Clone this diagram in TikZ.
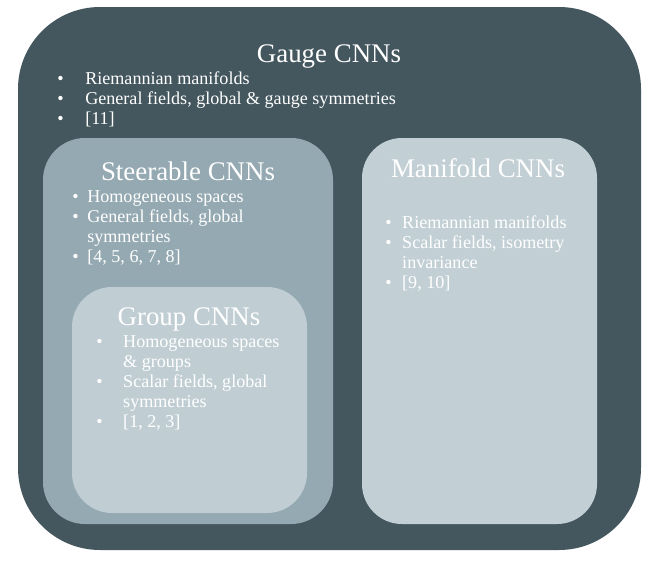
\documentclass[tikz,border=0pt]{standalone}
\usepackage{fontspec}
\setmainfont{Liberation Serif}
\usepackage{tikz}

\definecolor{gaugegray}{HTML}{44575F}
\definecolor{steergray}{HTML}{94A9B1}
\definecolor{grouplight}{HTML}{C0CED4}
\definecolor{manilight}{HTML}{C2CFD5}

% bullet list: width of the bullet column, then the rows
\newcommand{\bulletlist}[2]{\begin{tabular}[t]{@{}p{#1}@{}l@{}}#2\end{tabular}}

\begin{document}
\begin{tikzpicture}[x=0.02cm,y=-0.02cm,
    title/.style={text=white, inner sep=0pt, anchor=base, font=\fontsize{15.3}{17}\selectfont},
    items/.style={text=white, inner sep=0pt, anchor=base west, font=\fontsize{10.3}{11.4}\selectfont}]

            % fix the page size
            \useasboundingbox (0,0) rectangle (653,561);

            % draw the outer box
            \fill[gaugegray, rounded corners=1.64cm] (18,7) rectangle (641,550);

            % draw the steerable box
            \fill[steergray, rounded corners=0.84cm] (43,138) rectangle (333,524);

            % draw the group box inside it
            \fill[grouplight, rounded corners=0.8cm] (72,287) rectangle (307,513);

            % draw the manifold box
            \fill[manilight, rounded corners=0.8cm] (362,138) rectangle (597,524);

            % titles
            \node[title] (gauge) at (329,62) {Gauge CNNs};
            \node[title] (steer) at (188,180) {Steerable CNNs};
            \node[title] (group) at (189,325) {Group CNNs};
            \node[title] (mani) at (478,177) {Manifold CNNs};

            % lists
            \node[items] (gaugelist) at (57,84) {\bulletlist{15.9pt}{\textbullet & Riemannian manifolds\\
                \textbullet & General fields, global \& gauge symmetries\\
                \textbullet & [11]}};
            \node[items] (steerlist) at (72,202) {\bulletlist{8.5pt}{\textbullet & Homogeneous spaces\\
                \textbullet & General fields, global\\
                & symmetries\\
                \textbullet & [4, 5, 6, 7, 8]}};
            \node[items] (grouplist) at (96,347) {\bulletlist{15.3pt}{\textbullet & Homogeneous spaces\\
                & \& groups\\
                \textbullet & Scalar fields, global\\
                & symmetries\\
                \textbullet & [1, 2, 3]}};
            \node[items] (manilist) at (385,228) {\bulletlist{9.6pt}{\textbullet & Riemannian manifolds\\
                \textbullet & Scalar fields, isometry\\
                & invariance\\
                \textbullet & [9, 10]}};
\end{tikzpicture}
\end{document}
